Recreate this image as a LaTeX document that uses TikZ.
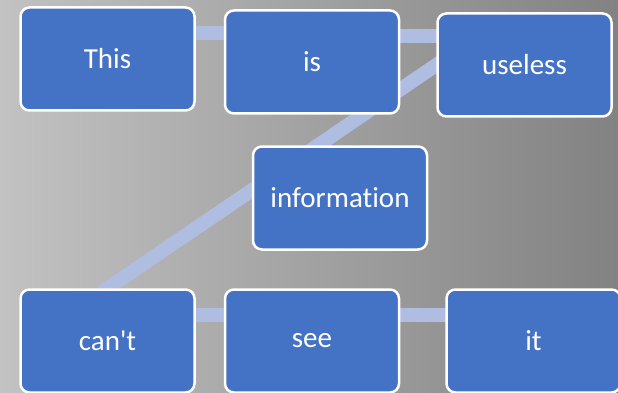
\documentclass[tikz,border=0pt]{standalone}
\usepackage{fontspec}
\newfontfamily\wordfont[Ligatures=NoCommon]{Carlito}
\usetikzlibrary{positioning,backgrounds}

\definecolor{boxblue}{RGB}{68,114,196}
\definecolor{linkblue}{RGB}{175,189,224}
\definecolor{bglight}{RGB}{194,194,194}
\definecolor{bgdark}{RGB}{130,130,130}

\begin{document}
\begin{tikzpicture}[
    x=1pt, y=-1pt,
    word/.style={rectangle, rounded corners=9pt, draw=white, line width=2.5pt, fill=boxblue,
        text=white, minimum width=174pt, minimum height=103pt, font=\wordfont\fontsize{29}{34}\selectfont},
    link/.style={draw=linkblue, line width=14pt, shorten <=-8pt, shorten >=-8pt}
]
    \useasboundingbox (0,0) rectangle (618,393);

    \node[word] (this) at (107.5,59) {This};
    \node[word, right=28pt of this, yshift=-3pt] (is) {is};
    \node[word, right=36pt of is, yshift=-3pt] (useless) {useless};
    \node[word] (information) at (340,198) {information};
    \node[word] (cant) at (107.5,341) {can't};
    \node[word, right=28pt of cant] (see) {see};
    \node[word, right=45pt of see] (it) {it};

    \begin{pgfonlayer}{background}
        \shade[shading angle=115, left color=bglight, right color=bgdark] (0,0) rectangle (618,393);
        % connectors behind the boxes
        \draw[link] ([yshift=26pt]this.east) -- ([yshift=26pt]this.east -| is.west);
        \draw[link] ([yshift=26pt]is.east) -- ([yshift=26pt]is.east -| useless.west);
        \draw[link] (useless.west) -- (cant.north);
        \draw[link] ([yshift=26pt]cant.east) -- ([yshift=26pt]cant.east -| see.west);
        \draw[link] ([yshift=26pt]see.east) -- ([yshift=26pt]see.east -| it.west);
    \end{pgfonlayer}
\end{tikzpicture}
\end{document}
